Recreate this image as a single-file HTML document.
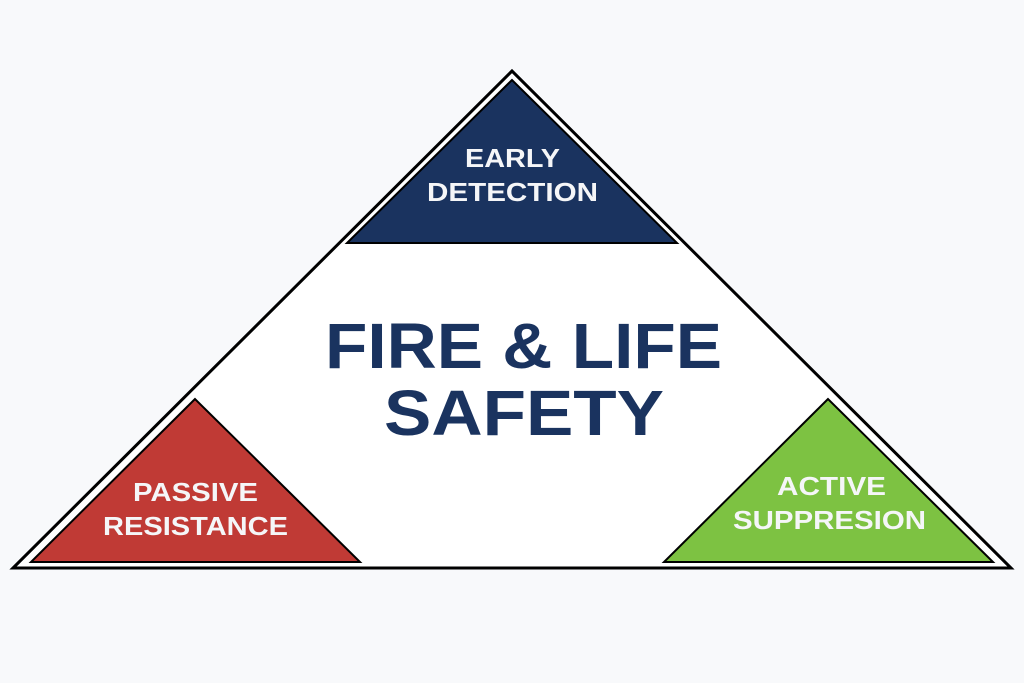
<!DOCTYPE html>
<html><head><style>
body{margin:0;background:#f8f9fb;}
svg{display:block}
text{font-family:"Liberation Sans",sans-serif;font-weight:bold;}
</style></head><body>
<svg width="1024" height="683" viewBox="0 0 1024 683">
<rect width="1024" height="683" fill="#f8f9fb"/>
<polygon points="512,71 13,568 1011,568" fill="#fff" stroke="#000" stroke-width="3" stroke-linejoin="miter"/>
<polygon points="512,80 347,243 677,243" fill="#1a335f" stroke="#000" stroke-width="2"/>
<polygon points="195,399 31,562 360,562" fill="#c03a35" stroke="#000" stroke-width="2"/>
<polygon points="828,399 664,562 993,562" fill="#7dc242" stroke="#000" stroke-width="2"/>
<g fill="#f5f6f8" font-size="26" lengthAdjust="spacingAndGlyphs">
<text x="465" y="167" textLength="95" lengthAdjust="spacingAndGlyphs">EARLY</text>
<text x="427" y="201" textLength="171" lengthAdjust="spacingAndGlyphs">DETECTION</text>
<text x="133" y="501" textLength="125" lengthAdjust="spacingAndGlyphs">PASSIVE</text>
<text x="103" y="535" textLength="185" lengthAdjust="spacingAndGlyphs">RESISTANCE</text>
<text x="777" y="495" textLength="109" lengthAdjust="spacingAndGlyphs">ACTIVE</text>
<text x="733" y="529" textLength="193" lengthAdjust="spacingAndGlyphs">SUPPRESION</text>
</g>
<g fill="#1a335f" font-size="64">
<text x="325" y="368" textLength="397" lengthAdjust="spacingAndGlyphs">FIRE &amp; LIFE</text>
<text x="384" y="435" textLength="280" lengthAdjust="spacingAndGlyphs">SAFETY</text>
</g>
</svg>
</body></html>
